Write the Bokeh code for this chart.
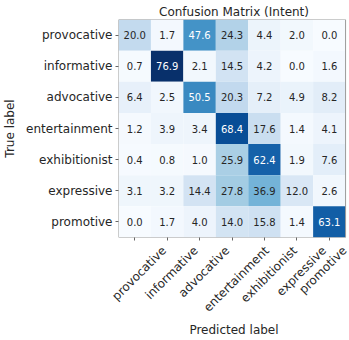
import math

from bokeh.core.properties import value
from bokeh.embed import file_html
from bokeh.models import (ColumnDataSource, FactorRange, FixedTicker,
                          LinearAxis, LinearColorMapper, Range1d)
from bokeh.palettes import Blues256
from bokeh.plotting import figure
from bokeh.resources import INLINE

# Intent classes (rows = true label, columns = predicted label)
labels = ["provocative", "informative", "advocative", "entertainment",
          "exhibitionist", "expressive", "promotive"]

# Row-normalised confusion matrix, in percent
row_provocative = [20.0, 1.7, 47.6, 24.3, 4.4, 2.0, 0.0]
row_informative = [0.7, 76.9, 2.1, 14.5, 4.2, 0.0, 1.6]
row_advocative = [6.4, 2.5, 50.5, 20.3, 7.2, 4.9, 8.2]
row_entertainment = [1.2, 3.9, 3.4, 68.4, 17.6, 1.4, 4.1]
row_exhibitionist = [0.4, 0.8, 1.0, 25.9, 62.4, 1.9, 7.6]
row_expressive = [3.1, 3.2, 14.4, 27.8, 36.9, 12.0, 2.6]
row_promotive = [0.0, 1.7, 4.0, 14.0, 15.8, 1.4, 63.1]

rows = [row_provocative, row_informative, row_advocative, row_entertainment,
        row_exhibitionist, row_expressive, row_promotive]

FONT = "DejaVu Sans"
TICK_FS = 12.0
TEXT_COLOR = "#262626"

# frame geometry (pixels); the frame runs to the right canvas edge so the
# last rotated label can hang past the matrix, which itself is CELL_PX wide
W, H = 349, 340
B_LEFT, B_RIGHT, B_TOP, B_BOTTOM = 114, 0, 19, 93
CELL_PX = 33.0
n = len(labels)
frame_w = W - B_LEFT - B_RIGHT
x_end = frame_w / CELL_PX

# predicted classes sit at column centres 0.5, 1.5, ... on a numeric x scale
col_center = {lbl: i + 0.5 for i, lbl in enumerate(labels)}

xs, ys, vals, txt, txt_color = [], [], [], [], []
vmax = max(max(r) for r in rows)
for true_lbl, row in zip(labels, rows):
    for pred_lbl, v in zip(labels, row):
        xs.append(col_center[pred_lbl])
        ys.append(true_lbl)
        vals.append(v)
        txt.append(f"{v:.1f}")
        txt_color.append("white" if v > vmax / 2 else TEXT_COLOR)

src = ColumnDataSource(dict(x=xs, y=ys, v=vals, t=txt, c=txt_color))

palette = list(Blues256)
if palette[0].lower() == "#08306b":
    palette = palette[::-1]
mapper = LinearColorMapper(palette=palette, low=0, high=vmax)

p = figure(
    width=W, height=H,
    x_range=Range1d(0, x_end),
    y_range=FactorRange(*labels[::-1]),
    output_backend="svg", toolbar_location=None,
    min_border_left=B_LEFT, min_border_right=B_RIGHT,
    min_border_top=B_TOP, min_border_bottom=B_BOTTOM,
    title="Confusion Matrix (Intent)",
)
p.background_fill_color = "white"
p.border_fill_color = "white"
p.outline_line_color = None
p.grid.visible = False

p.title.text_font = FONT
p.title.text_font_size = "12px"
p.title.text_font_style = "normal"
p.title.text_color = TEXT_COLOR
p.title.align = "center"
p.title.offset = -(W - B_LEFT - n * CELL_PX) / 2
p.title.standoff = 2

p.rect(x="x", y="y", width=1, height=1, source=src,
       fill_color={"field": "v", "transform": mapper}, line_color=None)
p.text(x="x", y="y", text="t", source=src, text_color="c",
       text_align="center", text_baseline="middle",
       text_font=value(FONT), text_font_size="10px")

# frame round the matrix
p.quad(left=[0], right=[n], bottom=[0], top=[n],
       fill_color=None, line_color="#9a9a9a", line_width=1)

for ax in (p.xaxis[0], p.yaxis[0]):
    ax.axis_line_color = None
    ax.major_tick_in = 0
    ax.major_tick_out = 3
    ax.minor_tick_line_color = None
    ax.major_tick_line_color = "#666666"
    ax.major_label_text_font = FONT
    ax.major_label_text_font_size = f"{TICK_FS}px"
    ax.major_label_text_color = TEXT_COLOR
    ax.axis_label_text_font = FONT
    ax.axis_label_text_font_size = "12px"
    ax.axis_label_text_font_style = "normal"
    ax.axis_label_text_color = TEXT_COLOR
    ax.major_label_standoff = 3

p.yaxis.axis_label = "True label"
p.yaxis.axis_label_standoff = 6

# the first x axis only carries the tick marks at the column centres
p.xaxis[0].ticker = FixedTicker(ticks=[col_center[l] for l in labels])
p.xaxis[0].major_label_text_alpha = 0

# approximate DejaVu Sans advance widths (em), used to centre each rotated
# label's bounding box under its tick
ADV = dict(a=.613, b=.635, c=.550, d=.635, e=.615, f=.352, g=.635, h=.634,
           i=.278, j=.278, k=.579, l=.278, m=.974, n=.634, o=.612, p=.635,
           q=.635, r=.411, s=.521, t=.392, u=.634, v=.592, w=.818, x=.592,
           y=.592, z=.525)
line_h = TICK_FS * 1.16

tick_pos, overrides = [], {}
for lbl in labels:
    length = sum(ADV.get(ch, .6) for ch in lbl) * TICK_FS
    shift = (length + line_h) * math.sqrt(0.5) / 2 / CELL_PX
    pos = round(min(col_center[lbl] + shift, x_end - 0.001), 4)
    tick_pos.append(pos)
    overrides[pos] = lbl

lab_axis = LinearAxis(ticker=FixedTicker(ticks=tick_pos),
                      major_label_overrides=overrides,
                      major_label_orientation=math.pi / 4,
                      axis_label="Predicted label")
lab_axis.axis_line_color = None
lab_axis.major_tick_line_color = None
lab_axis.major_tick_in = 0
lab_axis.major_tick_out = 0
lab_axis.minor_tick_line_color = None
lab_axis.major_label_standoff = 8
lab_axis.major_label_text_font = FONT
lab_axis.major_label_text_font_size = f"{TICK_FS}px"
lab_axis.major_label_text_color = TEXT_COLOR
lab_axis.axis_label_text_font = FONT
lab_axis.axis_label_text_font_size = "12px"
lab_axis.axis_label_text_font_style = "normal"
lab_axis.axis_label_text_color = TEXT_COLOR
lab_axis.axis_label_standoff = 1
p.add_layout(lab_axis, "below")

open("out.html", "w").write(file_html(p, INLINE))
